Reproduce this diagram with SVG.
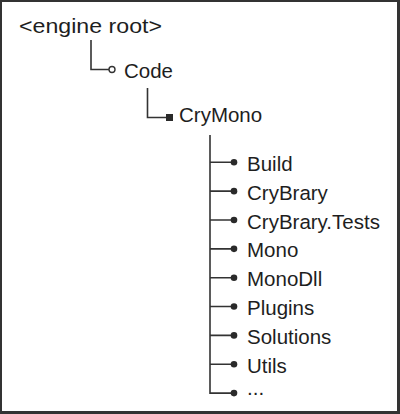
<svg xmlns="http://www.w3.org/2000/svg" width="400" height="414" viewBox="0 0 400 414">
<style>
text{font-family:"Liberation Sans",Arial,sans-serif;font-size:20.5px;fill:#1e1e1e}
.ln{fill:none;stroke:#333;stroke-width:1.6}
.dot{fill:#2a2a2a}
</style>
<rect x="0" y="0" width="400" height="414" fill="#333"/>
<rect x="2" y="2" width="395" height="409" fill="#fff"/>
<g id="connectors">
<path class="ln" d="M91,40 V69.5 H109"/>
<path class="ln" d="M147.5,88 V117.5 H166"/>
<path class="ln" d="M210,135 V393.1 H231"/>
<path class="ln" d="M210,162.3 H231 M210,191.15 H231 M210,220 H231 M210,248.85 H231 M210,277.7 H231 M210,306.55 H231 M210,335.4 H231 M210,364.25 H231"/>
</g>
<g id="n-root"><text x="19" y="33" textLength="143" lengthAdjust="spacingAndGlyphs">&lt;engine root&gt;</text></g>
<g id="n-code"><circle cx="112" cy="69.5" r="3" fill="#fff" stroke="#333" stroke-width="1.4"/><text x="124" y="77.5">Code</text></g>
<g id="n-crymono"><rect x="166" y="114" width="7" height="7" class="dot"/><text x="179" y="122">CryMono</text></g>
<g id="n-build"><circle cx="234" cy="162.3" r="3.3" class="dot"/><text x="247" y="170.8">Build</text></g>
<g id="n-crybrary"><circle cx="234" cy="191.15" r="3.3" class="dot"/><text x="247" y="199.65">CryBrary</text></g>
<g id="n-crybrary-tests"><circle cx="234" cy="220" r="3.3" class="dot"/><text x="247" y="228.5">CryBrary.Tests</text></g>
<g id="n-mono"><circle cx="234" cy="248.85" r="3.3" class="dot"/><text x="247" y="257.35">Mono</text></g>
<g id="n-monodll"><circle cx="234" cy="277.7" r="3.3" class="dot"/><text x="247" y="286.2">MonoDll</text></g>
<g id="n-plugins"><circle cx="234" cy="306.55" r="3.3" class="dot"/><text x="247" y="315.05">Plugins</text></g>
<g id="n-solutions"><circle cx="234" cy="335.4" r="3.3" class="dot"/><text x="247" y="343.9">Solutions</text></g>
<g id="n-utils"><circle cx="234" cy="364.25" r="3.3" class="dot"/><text x="247" y="372.75">Utils</text></g>
<g id="n-more"><circle cx="234" cy="393.1" r="3.3" class="dot"/><text x="247" y="395">...</text></g>
</svg>
